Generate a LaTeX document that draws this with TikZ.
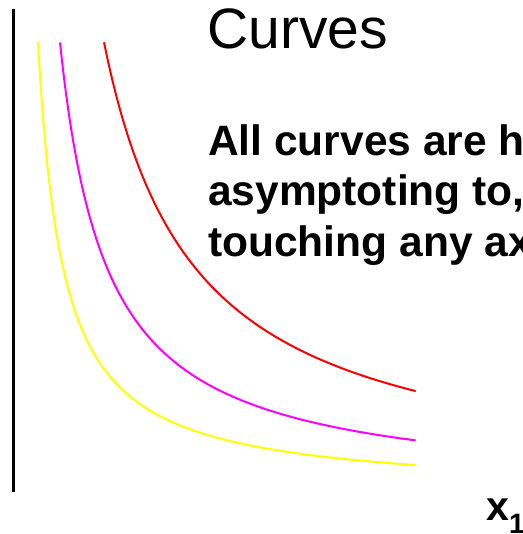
\documentclass[tikz,border=0pt]{standalone}
\usepackage{fontspec}
\setmainfont{Liberation Sans}
\usepackage{tikz}
\usetikzlibrary{positioning}
\definecolor{Ink}{HTML}{000000}
\definecolor{Low}{HTML}{FFFF00}
\definecolor{Mid}{HTML}{FF00FF}
\definecolor{High}{HTML}{FF0000}
\tikzset{
  axisline/.style={draw=Ink,line width=3pt},
  curve/.style={line width=2pt,smooth,samples=60,variable=\u},
  heading/.style={font=\fontsize{57}{60}\selectfont,inner sep=0pt,anchor=base west},
  note/.style={font=\fontsize{42.5}{50}\selectfont\bfseries,inner sep=0pt,anchor=base west},
  axlabel/.style={font=\fontsize{41}{41}\selectfont\bfseries,inner sep=0pt,anchor=base west}
}

\begin{document}
\begin{tikzpicture}[x=1pt,y=-1pt]
  \useasboundingbox (0,0) rectangle (522,534);
  \clip (0,0) rectangle (522,534);
  % vertical axis
  \coordinate (top) at (13.5,9);
  \coordinate (origin) at (13.5,492);
  \draw[axisline] (top) -- (origin);
  % three indifference curves, x*y = const (scaled by 100 to stay small)
  \draw[curve,draw=Low] plot[domain=3.2189:5.9989] ({13+exp(\u)},{493-100*(112.75/exp(\u))});
  \draw[curve,draw=Mid] plot[domain=3.8501:5.9989] ({13+exp(\u)},{493-100*(211.74/exp(\u))});
  \draw[curve,draw=High] plot[domain=4.5109:5.9989] ({13+exp(\u)},{493-100*(410.23/exp(\u))});
  % texts
  \node[heading] (title) at (207,49) {Curves};
  \node[note] (line1) at (208,156) {All curves are hyperbolic,};
  \node[note] (line2) at (208,206) {asymptoting to, but never};
  \node[note] (line3) at (208,256) {touching any axis.};
  \node[axlabel] (xlab) at (486,520) {x\raisebox{-13pt}{\fontsize{28}{28}\selectfont 1}};
\end{tikzpicture}
\end{document}
